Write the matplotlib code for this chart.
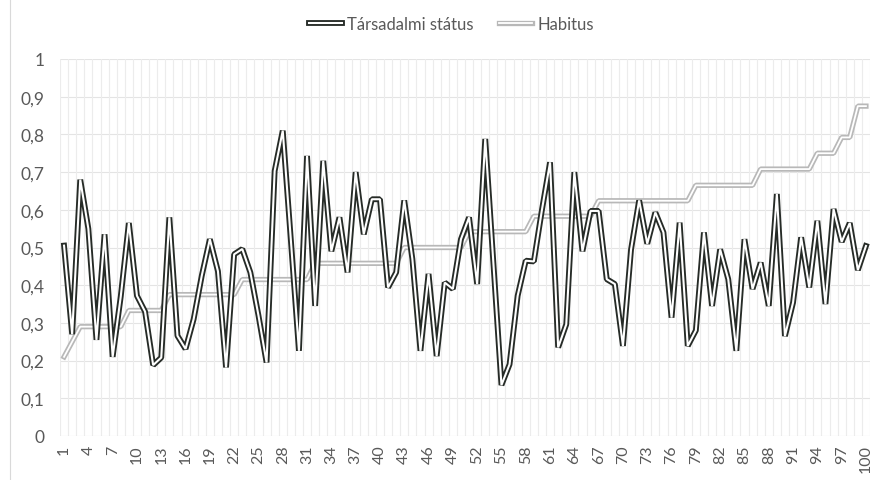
import matplotlib.pyplot as plt
from matplotlib.lines import Line2D
from matplotlib.legend_handler import HandlerTuple

# data
categories = list(range(1, 101))
statusz = [0.505, 0.27, 0.68, 0.55, 0.255, 0.535, 0.21, 0.37, 0.565, 0.372,
           0.33, 0.188, 0.208, 0.58, 0.266, 0.231, 0.31, 0.425, 0.522, 0.437,
           0.182, 0.482, 0.496, 0.434, 0.32, 0.195, 0.703, 0.81, 0.52, 0.226,
           0.743, 0.345, 0.73, 0.49, 0.58, 0.434, 0.70, 0.535, 0.628, 0.628,
           0.394, 0.434, 0.625, 0.47, 0.226, 0.43, 0.212, 0.407, 0.39, 0.522,
           0.58, 0.403, 0.788, 0.46, 0.135, 0.19, 0.372, 0.465, 0.463, 0.60,
           0.726, 0.235, 0.296, 0.70, 0.49, 0.597, 0.597, 0.416, 0.403, 0.239,
           0.495, 0.625, 0.51, 0.593, 0.54, 0.314, 0.566, 0.239, 0.28, 0.54,
           0.345, 0.495, 0.416, 0.226, 0.522, 0.39, 0.46, 0.345, 0.642, 0.265,
           0.354, 0.527, 0.394, 0.571, 0.35, 0.602, 0.515, 0.565, 0.44, 0.504]
habitus = ([0.21, 0.25] + [0.29] * 6 + [0.333] * 5 + [0.375] * 9 + [0.415] * 9
           + [0.458] * 11 + [0.50] * 8 + [0.542] * 8 + [0.583] * 8 + [0.624] * 12
           + [0.665] * 8 + [0.708] * 7 + [0.75] * 3 + [0.792] * 2 + [0.875] * 2)
series_names = ["Társadalmi státus", "Habitus"]
y_ticks = [0, 0.1, 0.2, 0.3, 0.4, 0.5, 0.6, 0.7, 0.8, 0.9, 1]
y_labels = ["0", "0,1", "0,2", "0,3", "0,4", "0,5", "0,6", "0,7", "0,8", "0,9", "1"]
x_ticks = categories[::3]

plt.rcParams['font.family'] = ['Lato', 'DejaVu Sans']
txt = "#595959"
dark = "#262b27"
light = "#b8b8b8"

fig = plt.figure(figsize=(8.78, 4.81), dpi=100)
ax = fig.add_axes([60 / 878, 1 - 437 / 481, 810 / 878, 377 / 481])

# double lines: thick coloured stroke with a thin white one on top
l1, = ax.plot(categories, statusz, color=dark, lw=4.2, solid_joinstyle="bevel", zorder=4)
l1w, = ax.plot(categories, statusz, color="white", lw=1.5, solid_joinstyle="bevel", zorder=5)
l2, = ax.plot(categories, habitus, color=light, lw=3.8, solid_joinstyle="bevel", zorder=2)
l2w, = ax.plot(categories, habitus, color="white", lw=1.3, solid_joinstyle="bevel", zorder=3)

ax.set_xlim(0.5, 100.5)
ax.set_ylim(0, 1)
ax.set_yticks(y_ticks)
ax.set_yticklabels(y_labels)
ax.set_xticks(x_ticks)
ax.set_xticklabels([str(c) for c in x_ticks], rotation=90)
ax.tick_params(axis="y", length=0, pad=11, labelsize=12.5, labelcolor=txt)
ax.tick_params(axis="x", length=0, pad=6, labelsize=11.5, labelcolor=txt)

for v in y_ticks[1:]:
    ax.axhline(v, color="#e4e4e4", lw=0.8, zorder=0)
for c in categories + [categories[-1] + 1]:
    ax.axvline(c - 0.5, color="#ececec", lw=0.8, zorder=0)
ax.axhline(0, color="#d9d9d9", lw=0.8, zorder=1)
for s in ax.spines.values():
    s.set_visible(False)

fig.add_artist(Line2D([10 / 878, 10 / 878], [0, 1], color="#d9d9d9", lw=0.8,
                      transform=fig.transFigure))

fig.legend([(l1, l1w), (l2, l2w)], series_names,
           handler_map={tuple: HandlerTuple(ndivide=1)},
           loc="center", bbox_to_anchor=(0.514, 0.948), ncol=2, frameon=False,
           fontsize=12, labelcolor=txt, handlelength=2.0, handletextpad=0.3,
           columnspacing=1.5)

fig.savefig("out.png", dpi=100)
